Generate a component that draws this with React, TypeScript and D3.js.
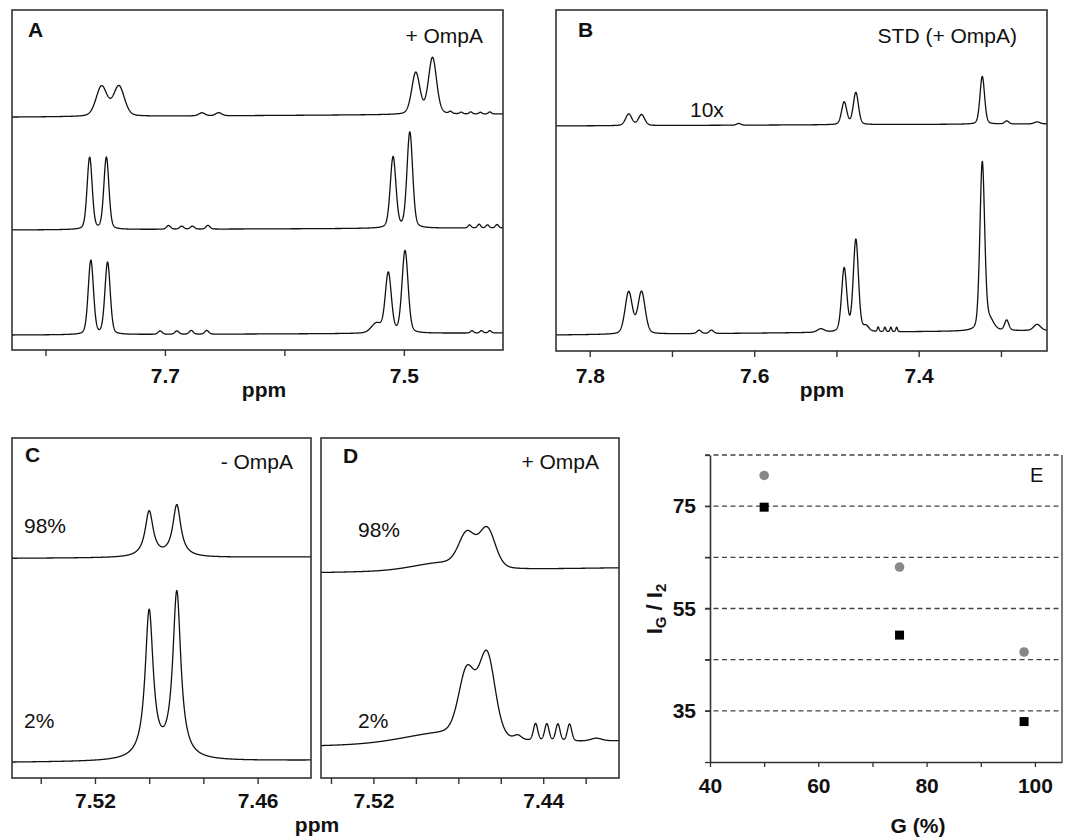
import React, { useEffect, useRef } from 'react';
import * as d3 from 'd3';

const FONT = '"Liberation Sans", Arial, Helvetica, sans-serif';

// peaks are [ppm, intensity (% of panel height), half width (ppm)]
// baselines are [left end, right end] in % of panel height

// ---- panel A ----
const aDomain = [7.828, 7.417];
const aTicks = [7.8, 7.7, 7.6, 7.5];
const aTickLabels = [7.7, 7.5];
const aTopBase = [68.5, 69.4];
const aTopPeaks = [
  [7.753, 8.8, 0.0054], [7.7385, 8.8, 0.0054],
  [7.669, 0.9, 0.003], [7.655, 0.9, 0.003],
  [7.49, 12.2, 0.004], [7.476, 16.6, 0.004],
  [7.461, 0.6, 0.0015], [7.452, 0.5, 0.0015], [7.444, 0.6, 0.0015], [7.436, 0.5, 0.0015], [7.428, 0.6, 0.0015],
];
const aMidBase = [35.3, 35.9];
const aMidPeaks = [
  [7.763, 21.2, 0.0025], [7.749, 21.2, 0.0025],
  [7.697, 1.1, 0.002], [7.686, 0.9, 0.002], [7.677, 0.9, 0.002], [7.664, 1.1, 0.002],
  [7.509, 20.9, 0.0028], [7.495, 28.2, 0.0028],
  [7.445, 0.9, 0.0015], [7.437, 1.1, 0.0015], [7.43, 0.9, 0.0015], [7.422, 1.0, 0.0015],
];
const aBotBase = [4.4, 5.0];
const aBotPeaks = [
  [7.762, 21.8, 0.0026], [7.748, 21.2, 0.0026],
  [7.704, 1.0, 0.002], [7.69, 1.0, 0.002], [7.678, 1.1, 0.002], [7.665, 1.1, 0.002],
  [7.523, 2.8, 0.005], [7.513, 17.6, 0.003], [7.499, 24.2, 0.003],
  [7.443, 0.7, 0.0015], [7.435, 0.7, 0.0015], [7.428, 0.7, 0.0015],
];

// ---- panel B (STD) ----
const bDomain = [7.841, 7.244];
const bTicks = [7.8, 7.7, 7.6, 7.5, 7.4, 7.3];
const bTickLabels = [7.8, 7.6, 7.4];
const bTopBase = [66.0, 66.6];
const bTopPeaks = [
  [7.7526, 3.4, 0.0045], [7.737, 3.2, 0.0045],
  [7.619, 0.5, 0.003],
  [7.4906, 6.6, 0.0037], [7.4764, 9.4, 0.0037],
  [7.3227, 14.0, 0.0033],
  [7.293, 0.9, 0.003], [7.256, 0.6, 0.004],
];
const bBotBase = [4.7, 6.0];
const bBotPeaks = [
  [7.7526, 12.3, 0.0052], [7.737, 12.3, 0.0052],
  [7.667, 1.0, 0.003], [7.652, 1.0, 0.003],
  [7.519, 1.0, 0.005],
  [7.4906, 18.6, 0.0037], [7.4764, 27.0, 0.0037],
  [7.464, 1.5, 0.004],
  [7.4493, 1.3, 0.0012], [7.4411, 1.3, 0.0012], [7.4338, 1.3, 0.0012], [7.4268, 1.3, 0.0012],
  [7.3227, 49.0, 0.0034], [7.314, 3.0, 0.006],
  [7.293, 3.0, 0.003], [7.256, 1.8, 0.005],
];

// ---- panel C (- OmpA) ----
const cDomain = [7.5506, 7.4403];
const cTicks = [7.54, 7.52, 7.5, 7.48, 7.46];
const cTickLabels = [7.52, 7.46];
const c98Base = [64.6, 65.0];
const c98Peaks = [[7.5, 13.4, 0.0018], [7.4898, 15.2, 0.0018]];
const c2Base = [4.6, 5.2];
const c2Peaks = [[7.5, 43.3, 0.0018], [7.4898, 48.9, 0.0018]];

// ---- panel D (+ OmpA) ----
const dDomain = [7.5447, 7.4043];
const dTicks = [7.54, 7.52, 7.5, 7.48, 7.46, 7.44, 7.42];
const dTickLabels = [7.52, 7.44];
const d98Base = [60.4, 61.8];
const d98Peaks = [[7.488, 2.2, 0.016], [7.476, 9.4, 0.0045], [7.4664, 11.4, 0.0045]];
const d2Base = [9.4, 10.9];
const d2Peaks = [
  [7.488, 3.0, 0.022], [7.476, 18.8, 0.0045], [7.4665, 24.3, 0.0045],
  [7.452, 1.2, 0.002],
  [7.4436, 5.0, 0.0012], [7.4383, 5.0, 0.0012], [7.4331, 5.0, 0.0012], [7.4276, 5.0, 0.0012],
  [7.415, 0.8, 0.003],
];

// ---- panel E ----
const gPercent = [50, 75, 98];
const ratioCircle = [81.0, 63.1, 46.5];
const ratioSquare = [74.8, 49.8, 32.9];
const eGrid = [35, 45, 55, 65, 75, 85];
const eYTicks = [25, 35, 45, 55, 65, 75, 85];
const eYLabels = [35, 55, 75];
const eXTicks = [40, 50, 60, 70, 80, 90, 100];
const eXLabels = [40, 60, 80, 100];

function intensity(ppm, peaks, base, domain, eta) {
  const f = (ppm - domain[0]) / (domain[1] - domain[0]);
  let v = base[0] + (base[1] - base[0]) * f;
  peaks.forEach(([c, h, w]) => {
    const t = (ppm - c) / w;
    v += h * (eta / (1 + t * t) + (1 - eta) * Math.exp(-Math.LN2 * t * t));
  });
  return v;
}

function drawSpectra(svg, o) {
  const x = d3.scaleLinear().domain(o.domain).range([o.x0, o.x1]);
  const y = d3.scaleLinear().domain([0, 100]).range([o.y1, o.y0]);
  const g = svg.append('g');
  const n = 2400;
  const pts = d3.range(n + 1).map(i => o.domain[0] + (o.domain[1] - o.domain[0]) * i / n);

  o.traces.forEach(tr => {
    const line = d3.line()
      .x(d => x(d))
      .y(d => y(intensity(d, tr.peaks, tr.base, o.domain, o.eta)));
    g.append('path')
      .attr('d', line(pts))
      .attr('fill', 'none')
      .attr('stroke', '#111')
      .attr('stroke-width', 1.3)
      .attr('stroke-linejoin', 'round');
  });

  g.append('rect')
    .attr('x', o.x0).attr('y', o.y0)
    .attr('width', o.x1 - o.x0).attr('height', o.y1 - o.y0)
    .attr('fill', 'none').attr('stroke', '#333').attr('stroke-width', 1.6);

  const axis = d3.axisBottom(x)
    .tickValues(o.ticks)
    .tickSizeInner(6).tickSizeOuter(0)
    .tickPadding(o.pad)
    .tickFormat(d => (o.labels.includes(d) ? d3.format(o.fmt)(d) : ''));
  const ax = g.append('g').attr('transform', `translate(0,${o.y1})`).call(axis);
  ax.select('.domain').remove();
  ax.selectAll('line').attr('stroke', '#333').attr('stroke-width', 1.4);
  ax.selectAll('text')
    .attr('font-family', FONT).attr('font-size', 21).attr('font-weight', 'bold').attr('fill', '#111');
  return g;
}

function label(svg, x, y, txt, opt: any = {}) {
  svg.append('text')
    .attr('x', x).attr('y', y)
    .attr('font-family', FONT)
    .attr('font-size', opt.size || 21)
    .attr('font-weight', opt.bold ? 'bold' : 'normal')
    .attr('text-anchor', opt.anchor || 'start')
    .attr('fill', '#111')
    .text(txt);
}

export default function App() {
  const ref = useRef(null);

  useEffect(() => {
    const svg = d3.select(ref.current);
    svg.selectAll('*').remove();

    // A
    drawSpectra(svg, {
      x0: 12, x1: 503, y0: 10, y1: 350, domain: aDomain, ticks: aTicks, labels: aTickLabels,
      fmt: '.1f', pad: 12, eta: 0.25,
      traces: [
        { base: aTopBase, peaks: aTopPeaks },
        { base: aMidBase, peaks: aMidPeaks },
        { base: aBotBase, peaks: aBotPeaks },
      ],
    });
    label(svg, 28, 37, 'A', { bold: true });
    label(svg, 483, 43, '+ OmpA', { anchor: 'end' });
    label(svg, 264, 397, 'ppm', { bold: true, anchor: 'middle' });

    // B
    drawSpectra(svg, {
      x0: 556, x1: 1047, y0: 10, y1: 351, domain: bDomain, ticks: bTicks, labels: bTickLabels,
      fmt: '.1f', pad: 11, eta: 0.25,
      traces: [
        { base: bTopBase, peaks: bTopPeaks },
        { base: bBotBase, peaks: bBotPeaks },
      ],
    });
    label(svg, 578, 37, 'B', { bold: true });
    label(svg, 1017, 43, 'STD (+ OmpA)', { anchor: 'end' });
    label(svg, 690, 117, '10x');
    label(svg, 822, 397, 'ppm', { bold: true, anchor: 'middle' });

    // C
    drawSpectra(svg, {
      x0: 12, x1: 311, y0: 438, y1: 778, domain: cDomain, ticks: cTicks, labels: cTickLabels,
      fmt: '.2f', pad: 9, eta: 1,
      traces: [
        { base: c98Base, peaks: c98Peaks },
        { base: c2Base, peaks: c2Peaks },
      ],
    });
    label(svg, 25, 462, 'C', { bold: true });
    label(svg, 293, 469, '- OmpA', { anchor: 'end' });
    label(svg, 24, 533, '98%');
    label(svg, 24, 728, '2%');

    // D
    drawSpectra(svg, {
      x0: 321, x1: 619, y0: 438, y1: 778, domain: dDomain, ticks: dTicks, labels: dTickLabels,
      fmt: '.2f', pad: 9, eta: 0.2,
      traces: [
        { base: d98Base, peaks: d98Peaks },
        { base: d2Base, peaks: d2Peaks },
      ],
    });
    label(svg, 343, 463, 'D', { bold: true });
    label(svg, 599, 469, '+ OmpA', { anchor: 'end' });
    label(svg, 358, 537, '98%');
    label(svg, 358, 728, '2%');
    label(svg, 317, 832, 'ppm', { bold: true, anchor: 'middle' });

    // E
    const ex = d3.scaleLinear().domain([40, 105]).range([710, 1062]);
    const ey = d3.scaleLinear().domain([25, 85]).range([762, 455]);
    const e = svg.append('g');

    e.selectAll('line.grid')
      .data(eGrid)
      .enter()
      .append('line')
      .attr('x1', 705).attr('x2', ex(105))
      .attr('y1', d => ey(d)).attr('y2', d => ey(d))
      .attr('stroke', '#444').attr('stroke-width', 1.3).attr('stroke-dasharray', '5,3.5');

    e.append('line').attr('x1', ex(105)).attr('x2', ex(105)).attr('y1', ey(85)).attr('y2', ey(25))
      .attr('stroke', '#444').attr('stroke-width', 1.4);

    const yAxis = d3.axisLeft(ey).tickValues(eYTicks).tickSizeInner(5).tickSizeOuter(0).tickPadding(9)
      .tickFormat(d => (eYLabels.includes(d) ? String(d) : ''));
    const yg = e.append('g').attr('transform', 'translate(710,0)').call(yAxis);
    yg.select('.domain').attr('stroke', '#333').attr('stroke-width', 1.6);
    yg.selectAll('line').attr('stroke', '#333').attr('stroke-width', 1.3);
    yg.selectAll('text').attr('font-family', FONT).attr('font-size', 21).attr('font-weight', 'bold').attr('fill', '#111');

    const xAxis = d3.axisBottom(ex).tickValues(eXTicks).tickSizeInner(5).tickSizeOuter(0).tickPadding(11)
      .tickFormat(d => (eXLabels.includes(d) ? String(d) : ''));
    const xg = e.append('g').attr('transform', `translate(0,${ey(25)})`).call(xAxis);
    xg.select('.domain').attr('stroke', '#333').attr('stroke-width', 1.6);
    xg.selectAll('line').attr('stroke', '#333').attr('stroke-width', 1.3);
    xg.selectAll('text').attr('font-family', FONT).attr('font-size', 21).attr('font-weight', 'bold').attr('fill', '#111');

    e.selectAll('circle.pt')
      .data(gPercent)
      .enter()
      .append('circle')
      .attr('cx', d => ex(d))
      .attr('cy', (d, i) => ey(ratioCircle[i]))
      .attr('r', 4.8)
      .attr('fill', '#888');

    e.selectAll('rect.pt')
      .data(gPercent)
      .enter()
      .append('rect')
      .attr('x', d => ex(d) - 4.5)
      .attr('y', (d, i) => ey(ratioSquare[i]) - 4.5)
      .attr('width', 9).attr('height', 9)
      .attr('fill', '#000');

    label(svg, 1030, 482, 'E', { size: 20 });
    label(svg, 918, 833, 'G (%)', { bold: true, anchor: 'middle' });

    const yl = svg.append('text')
      .attr('transform', 'translate(662,609) rotate(-90)')
      .attr('text-anchor', 'middle')
      .attr('font-family', FONT).attr('font-size', 22).attr('font-weight', 'bold').attr('fill', '#111');
    yl.append('tspan').text('I');
    yl.append('tspan').attr('font-size', 15).attr('dy', 4).text('G');
    yl.append('tspan').attr('dy', -4).text('\u00a0/\u00a0I');
    yl.append('tspan').attr('font-size', 15).attr('dy', 4).text('2');
  }, []);

  return (
    <svg
      ref={ref}
      width={1070}
      height={838}
      style={{ position: 'absolute', left: 0, top: 0, background: '#fff' }}
    />
  );
}
